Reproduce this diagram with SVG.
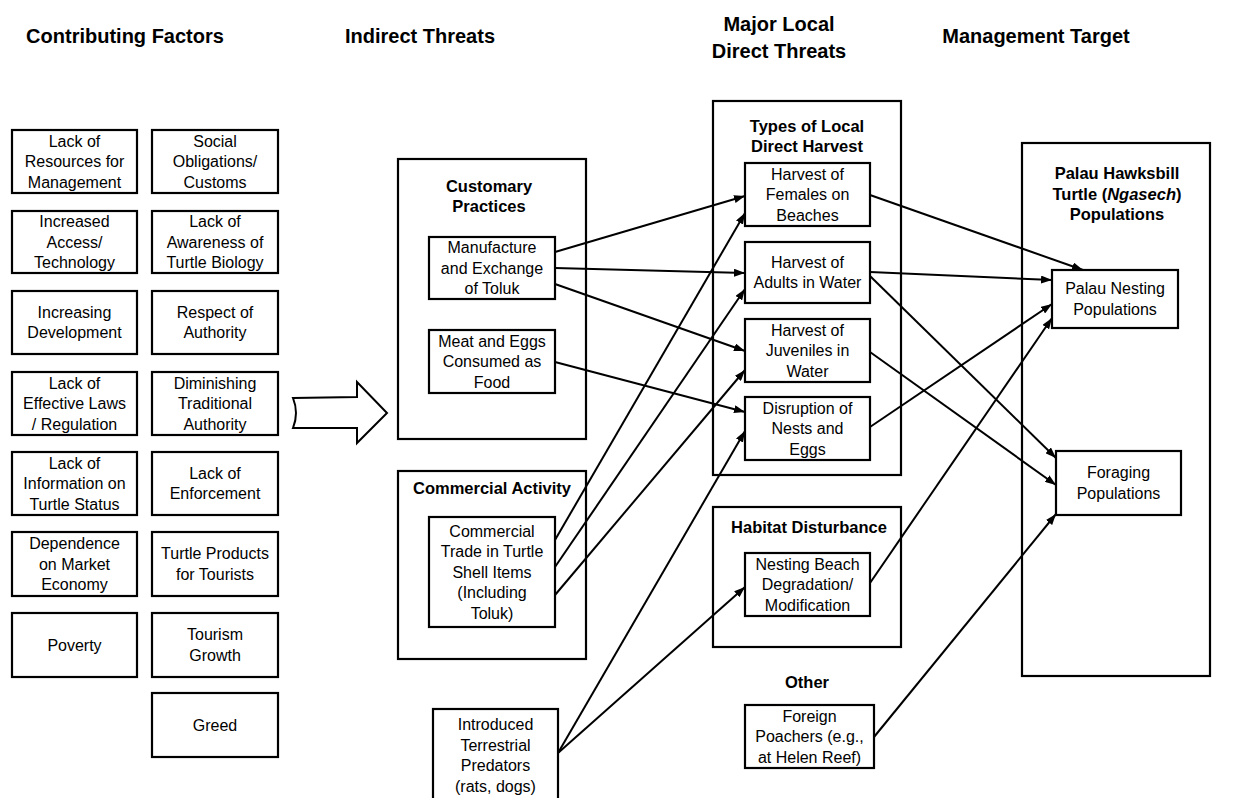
<svg xmlns="http://www.w3.org/2000/svg" width="1243" height="798" viewBox="0 0 1243 798">
<style>
.bx{fill:#fff;stroke:#000;stroke-width:2.2}
.grp{fill:none;stroke:#000;stroke-width:2.2}
.t{font-family:"Liberation Sans",Arial,sans-serif;font-size:16px;fill:#000;text-anchor:middle}
.b{font-family:"Liberation Sans",Arial,sans-serif;font-size:16.5px;font-weight:bold;fill:#000;text-anchor:middle}
.h{font-family:"Liberation Sans",Arial,sans-serif;font-size:20px;font-weight:bold;fill:#000;text-anchor:middle}
.c{stroke:#000;stroke-width:2;fill:none;marker-end:url(#ah)}
</style>
<defs>
<marker id="ah" markerUnits="userSpaceOnUse" markerWidth="11" markerHeight="8" refX="11" refY="4" orient="auto">
<path d="M0,0 L11,4 L0,8 z" fill="#000"/>
</marker>
</defs>
<rect width="1243" height="798" fill="#fff"/>

<g id="headers">
<text class="h" x="125" y="43">Contributing Factors</text>
<text class="h" x="420" y="43">Indirect Threats</text>
<text class="h" x="779" y="31">Major Local</text>
<text class="h" x="779" y="58">Direct Threats</text>
<text class="h" x="1036" y="43">Management Target</text>
</g>

<g id="contributing-factors">
<g id="cf-resources"><rect class="bx" x="12" y="130" width="125" height="63"/><text class="t"><tspan x="74.5" y="146.5">Lack of</tspan><tspan x="74.5" y="167">Resources for</tspan><tspan x="74.5" y="187.5">Management</tspan></text></g>
<g id="cf-social"><rect class="bx" x="152" y="130" width="126" height="63"/><text class="t"><tspan x="215" y="146.5">Social</tspan><tspan x="215" y="167">Obligations/</tspan><tspan x="215" y="187.5">Customs</tspan></text></g>
<g id="cf-access"><rect class="bx" x="12" y="211" width="125" height="62"/><text class="t"><tspan x="74.5" y="227">Increased</tspan><tspan x="74.5" y="247.5">Access/</tspan><tspan x="74.5" y="268">Technology</tspan></text></g>
<g id="cf-awareness"><rect class="bx" x="152" y="211" width="126" height="62"/><text class="t"><tspan x="215" y="227">Lack of</tspan><tspan x="215" y="247.5">Awareness of</tspan><tspan x="215" y="268">Turtle Biology</tspan></text></g>
<g id="cf-development"><rect class="bx" x="12" y="291" width="125" height="63"/><text class="t"><tspan x="74.5" y="317.75">Increasing</tspan><tspan x="74.5" y="338.25">Development</tspan></text></g>
<g id="cf-respect"><rect class="bx" x="152" y="291" width="126" height="63"/><text class="t"><tspan x="215" y="317.75">Respect of</tspan><tspan x="215" y="338.25">Authority</tspan></text></g>
<g id="cf-laws"><rect class="bx" x="12" y="372" width="125" height="63"/><text class="t"><tspan x="74.5" y="388.5">Lack of</tspan><tspan x="74.5" y="409">Effective Laws</tspan><tspan x="74.5" y="429.5">/ Regulation</tspan></text></g>
<g id="cf-diminishing"><rect class="bx" x="152" y="372" width="126" height="63"/><text class="t"><tspan x="215" y="388.5">Diminishing</tspan><tspan x="215" y="409">Traditional</tspan><tspan x="215" y="429.5">Authority</tspan></text></g>
<g id="cf-information"><rect class="bx" x="12" y="452" width="125" height="63"/><text class="t"><tspan x="74.5" y="468.5">Lack of</tspan><tspan x="74.5" y="489">Information on</tspan><tspan x="74.5" y="509.5">Turtle Status</tspan></text></g>
<g id="cf-enforcement"><rect class="bx" x="152" y="452" width="126" height="63"/><text class="t"><tspan x="215" y="478.75">Lack of</tspan><tspan x="215" y="499.25">Enforcement</tspan></text></g>
<g id="cf-market"><rect class="bx" x="12" y="532" width="125" height="64"/><text class="t"><tspan x="74.5" y="549">Dependence</tspan><tspan x="74.5" y="569.5">on Market</tspan><tspan x="74.5" y="590">Economy</tspan></text></g>
<g id="cf-products"><rect class="bx" x="152" y="532" width="126" height="64"/><text class="t"><tspan x="215" y="559.25">Turtle Products</tspan><tspan x="215" y="579.75">for Tourists</tspan></text></g>
<g id="cf-poverty"><rect class="bx" x="12" y="613" width="125" height="64"/><text class="t" x="74.5" y="650.5">Poverty</text></g>
<g id="cf-tourism"><rect class="bx" x="152" y="613" width="126" height="64"/><text class="t"><tspan x="215" y="640.25">Tourism</tspan><tspan x="215" y="660.75">Growth</tspan></text></g>
<g id="cf-greed"><rect class="bx" x="152" y="693" width="126" height="64"/><text class="t" x="215" y="730.5">Greed</text></g>
</g>

<g id="big-arrow">
<path d="M293,398 L357,397 L357,382 L387,413 L357,443 L357,428 L293,428 Q299,413 293,398 Z" fill="#fff" stroke="#000" stroke-width="2"/>
</g>

<g id="customary-practices">
<rect class="grp" x="398" y="159" width="188" height="280"/>
<text class="b"><tspan x="489" y="192">Customary</tspan><tspan x="489" y="212">Practices</tspan></text>
</g>
<g id="manufacture"><rect class="bx" x="429" y="237" width="126" height="62"/><text class="t"><tspan x="492" y="253">Manufacture</tspan><tspan x="492" y="273.5">and Exchange</tspan><tspan x="492" y="294">of Toluk</tspan></text></g>
<g id="meat-eggs"><rect class="bx" x="429" y="330" width="126" height="63"/><text class="t"><tspan x="492" y="346.5">Meat and Eggs</tspan><tspan x="492" y="367">Consumed as</tspan><tspan x="492" y="387.5">Food</tspan></text></g>

<g id="commercial-activity">
<rect class="grp" x="398" y="471" width="188" height="188"/>
<text class="b" x="492" y="494">Commercial Activity</text>
</g>
<g id="commercial-trade"><rect class="bx" x="429" y="517" width="126" height="110"/><text class="t"><tspan x="492" y="536.5">Commercial</tspan><tspan x="492" y="557">Trade in Turtle</tspan><tspan x="492" y="577.5">Shell Items</tspan><tspan x="492" y="598">(Including</tspan><tspan x="492" y="618.5">Toluk)</tspan></text></g>

<g id="predators"><rect class="bx" x="433" y="709" width="125" height="100"/><text class="t"><tspan x="495.5" y="730">Introduced</tspan><tspan x="495.5" y="750.5">Terrestrial</tspan><tspan x="495.5" y="771">Predators</tspan><tspan x="495.5" y="791.5">(rats, dogs)</tspan></text></g>

<g id="local-harvest">
<rect class="grp" x="713" y="101" width="188" height="374"/>
<text class="b"><tspan x="807" y="132">Types of Local</tspan><tspan x="807" y="152">Direct Harvest</tspan></text>
</g>
<g id="females"><rect class="bx" x="745" y="163" width="125" height="63"/><text class="t"><tspan x="807.5" y="179.5">Harvest of</tspan><tspan x="807.5" y="200">Females on</tspan><tspan x="807.5" y="220.5">Beaches</tspan></text></g>
<g id="adults"><rect class="bx" x="745" y="242" width="125" height="61"/><text class="t"><tspan x="807.5" y="267.75">Harvest of</tspan><tspan x="807.5" y="288.25">Adults in Water</tspan></text></g>
<g id="juveniles"><rect class="bx" x="745" y="319" width="125" height="63"/><text class="t"><tspan x="807.5" y="335.5">Harvest of</tspan><tspan x="807.5" y="356">Juveniles in</tspan><tspan x="807.5" y="376.5">Water</tspan></text></g>
<g id="nests"><rect class="bx" x="745" y="397" width="125" height="63"/><text class="t"><tspan x="807.5" y="413.5">Disruption of</tspan><tspan x="807.5" y="434">Nests and</tspan><tspan x="807.5" y="454.5">Eggs</tspan></text></g>

<g id="habitat-disturbance">
<rect class="grp" x="713" y="507" width="188" height="140"/>
<text class="b" x="809" y="533">Habitat Disturbance</text>
</g>
<g id="nesting-beach"><rect class="bx" x="745" y="553" width="125" height="63"/><text class="t"><tspan x="807.5" y="569.5">Nesting Beach</tspan><tspan x="807.5" y="590">Degradation/</tspan><tspan x="807.5" y="610.5">Modification</tspan></text></g>

<g id="other-label"><text class="b" x="807" y="688">Other</text></g>
<g id="foreign-poachers"><rect class="bx" x="745" y="705" width="129" height="63"/><text class="t"><tspan x="809.5" y="721.5">Foreign</tspan><tspan x="809.5" y="742">Poachers (e.g.,</tspan><tspan x="809.5" y="762.5">at Helen Reef)</tspan></text></g>

<g id="hawksbill">
<rect class="grp" x="1022" y="143" width="188" height="533"/>
<text class="b"><tspan x="1117" y="179">Palau Hawksbill</tspan><tspan x="1117" y="199.5">Turtle (<tspan font-style="italic">Ngasech</tspan>)</tspan><tspan x="1117" y="220">Populations</tspan></text>
</g>
<g id="nesting-pop"><rect class="bx" x="1052" y="270" width="126" height="58"/><text class="t"><tspan x="1115" y="294.25">Palau Nesting</tspan><tspan x="1115" y="314.75">Populations</tspan></text></g>
<g id="foraging-pop"><rect class="bx" x="1056" y="451" width="125" height="64"/><text class="t"><tspan x="1118.5" y="478.25">Foraging</tspan><tspan x="1118.5" y="498.75">Populations</tspan></text></g>

<g id="connectors">
<line class="c" x1="555" y1="252" x2="745" y2="196"/>
<line class="c" x1="555" y1="268" x2="745" y2="273"/>
<line class="c" x1="555" y1="284" x2="745" y2="351"/>
<line class="c" x1="555" y1="362" x2="745" y2="412"/>
<line class="c" x1="555" y1="540" x2="745" y2="213"/>
<line class="c" x1="555" y1="567" x2="745" y2="289"/>
<line class="c" x1="555" y1="595" x2="745" y2="370"/>
<line class="c" x1="558" y1="753" x2="745" y2="431"/>
<line class="c" x1="558" y1="753" x2="745" y2="587"/>
<line class="c" x1="870" y1="195" x2="1083" y2="270"/>
<line class="c" x1="870" y1="272" x2="1052" y2="280"/>
<line class="c" x1="870" y1="276" x2="1056" y2="458"/>
<line class="c" x1="870" y1="352" x2="1056" y2="485"/>
<line class="c" x1="870" y1="427" x2="1052" y2="304"/>
<line class="c" x1="870" y1="583" x2="1052" y2="318"/>
<line class="c" x1="874" y1="737" x2="1056" y2="514"/>
</g>
</svg>
